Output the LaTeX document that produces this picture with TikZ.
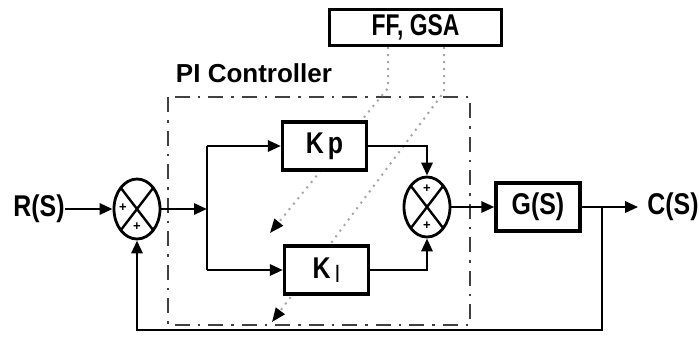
\documentclass[tikz,border=0pt]{standalone}
\usepackage{fontspec}
\setmainfont{Liberation Sans}
\newfontfamily\labfont[FakeStretch=0.83]{Liberation Sans}
\usetikzlibrary{arrows.meta,shapes.geometric}
\begin{document}
\begin{tikzpicture}[x=1pt,y=-1pt,
  box/.style={draw, line width=3.2pt, fill=white, inner sep=0pt, minimum width=84pt, minimum height=48pt, font=\labfont\bfseries\fontsize{30}{30}\selectfont},
  sumj/.style={draw, ellipse, line width=2.8pt, fill=white, inner sep=0pt, minimum width=46pt, minimum height=60pt,
    path picture={\draw[line width=2.4pt] (path picture bounding box.north west) -- (path picture bounding box.south east) (path picture bounding box.north east) -- (path picture bounding box.south west);}},
  conn/.style={line width=2.9pt, -{Triangle[length=13pt,width=11pt]}},
  plain/.style={line width=2.9pt},
  ctrl/.style={line width=2pt, black!35, dash pattern=on 2pt off 5pt, -{Triangle[length=14pt,width=11pt,color=black]}},
  lbl/.style={font=\labfont\bfseries\fontsize{30}{30}\selectfont, inner sep=0pt},
  sgn/.style={font=\bfseries\fontsize{13}{13}\selectfont, inner sep=0pt}]
\useasboundingbox (0,0) rectangle (699,341);

% PI controller frame
\draw[line width=2.8pt, black!75, dash pattern=on 15pt off 8pt on 2.5pt off 8pt] (168,97) rectangle (470,325);
\node[font=\bfseries\fontsize{26}{26}\selectfont, inner sep=0pt] (pil) at (254,73) {PI Controller};

% optimiser box
\node[box, minimum width=172pt, minimum height=36pt] (ff) at (415.5,27.5) {\scalebox{0.92}[1]{FF, GSA}};

% tuning lines
\coordinate (d1) at (388,88);
\coordinate (d1e) at (270,233);
\coordinate (d2) at (444,92);
\coordinate (d2e) at (272,322);
\draw[ctrl] (ff.south -| d1) -- (d1) -- (d1e);
\draw[ctrl] (ff.south -| d2) -- (d2) -- (d2e);

% blocks
\node[lbl] (r) at (39,209) {R(S)};
\node[sumj] (s1) at (137,209) {};
\node[box] (kp) at (324.5,146) {K\hspace{4pt}p};
\node[box] (ki) at (326.5,270) {K\hspace{4pt}\raisebox{-4pt}{\mdseries\fontsize{25}{25}\selectfont I}};
\node[sumj] (s2) at (427,207) {};
\node[box] (g) at (538,207) {G(S)};
\node[lbl] (c) at (673,207) {C(S)};

% signs
\node[sgn] (p1) at (123,208) {+};
\node[sgn] (p2) at (137,227) {+};
\node[sgn] (p3) at (427,189) {+};
\node[sgn] (p4) at (427,226) {+};

% connectors
\coordinate (b) at (207,209);
\coordinate (bt) at (207,146);
\coordinate (bb) at (207,270);
\draw[conn] (r.east) -- (s1.west);
\draw[conn] (s1.east) -- (b);
\draw[plain] (bt) -- (bb);
\draw[conn] (bt) -- (kp.west);
\draw[conn] (bb) -- (ki.west);
\draw[conn] (kp.east) -| (s2.north);
\draw[conn] (ki.east) -| (s2.south);
\draw[conn] (s2.east) -- (g.west);
\draw[conn, shorten >=9pt] (g.east) -- (c.west);
\coordinate (fb) at (602,207);
\coordinate (fbd) at (602,330);
\draw[conn] (fb) -- (fbd) -| (s1.south);
\end{tikzpicture}
\end{document}
